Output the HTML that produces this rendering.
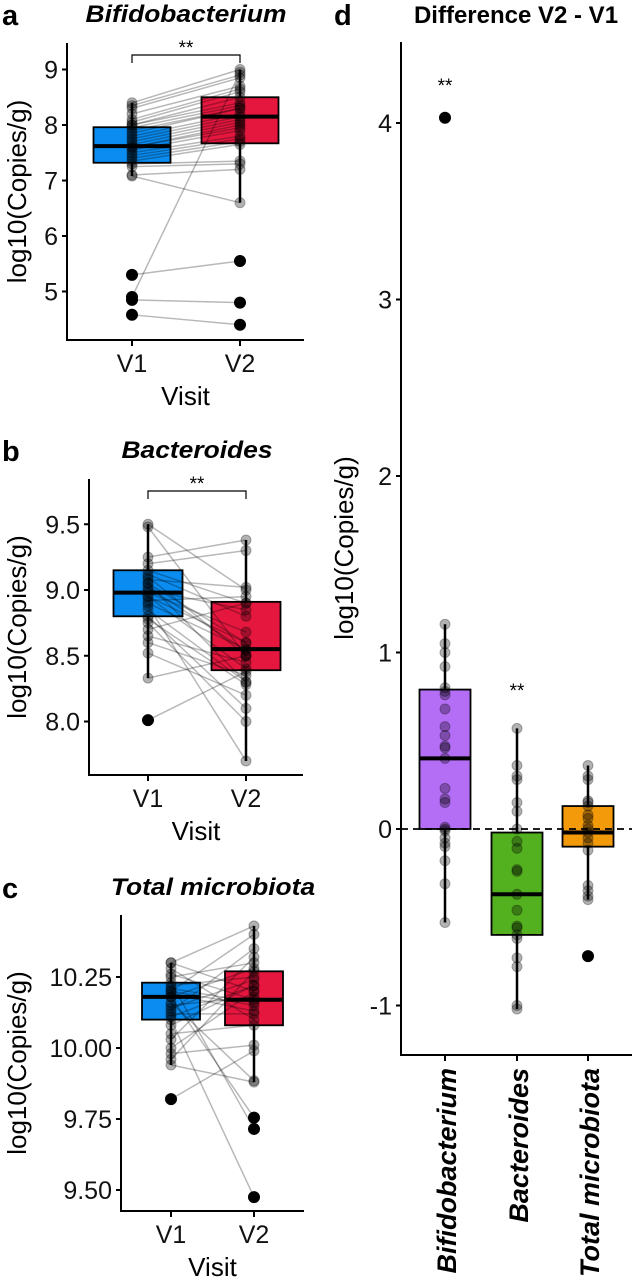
<!DOCTYPE html>
<html><head><meta charset="utf-8"><style>
html,body{margin:0;padding:0;background:#fff;}
svg{display:block;font-family:"Liberation Sans",Arial,sans-serif;}
</style></head><body>
<svg id="fig" width="633" height="1281" viewBox="0 0 633 1281" xmlns="http://www.w3.org/2000/svg"></svg>
<script>
// ---- data ----
const visits = ["V1","V2"];
const aV1 = [8.4,8.35,8.3,8.2,8.1,8.05,8.0,8.0,7.95,7.9,7.85,7.8,7.75,7.7,7.65,7.6,7.6,7.55,7.5,7.45,7.4,7.35,7.3,7.25,7.1,7.08,5.3,4.9,4.85,4.58];
const aV2 = [9.0,8.9,8.85,8.7,8.65,8.6,8.5,8.4,8.35,8.3,8.3,8.2,8.15,8.1,8.05,8.0,7.95,7.9,7.8,7.75,7.7,7.65,7.35,7.3,7.2,6.6,5.55,8.95,4.8,4.4];
const aBox1 = [7.08,7.32,7.62,7.96,8.4];
const aBox2 = [6.6,7.67,8.15,8.5,9.0];
const aTicks = [5,6,7,8,9];
const bV1 = [9.5,9.48,9.25,9.2,9.15,9.1,9.05,9.05,9.0,8.98,8.95,8.9,8.88,8.85,8.8,8.75,8.7,8.65,8.6,8.52,8.33,8.01,9.12,9.08,8.95,8.92,8.78,9.02];
const bV2 = [9.0,8.5,9.38,9.3,8.9,8.5,8.6,8.3,8.85,8.68,8.4,8.55,7.7,8.3,8.1,8.0,8.9,8.45,8.35,8.2,8.5,8.38,8.8,9.02,8.6,8.95,8.28,8.54];
const bBox1 = [8.33,8.8,8.98,9.15,9.5];
const bBox2 = [7.7,8.39,8.55,8.91,9.38];
const bTicks = [8.0,8.5,9.0,9.5];
const cV1 = [10.3,10.3,10.28,10.25,10.23,10.22,10.2,10.2,10.18,10.18,10.15,10.13,10.12,10.1,10.08,10.05,10.03,10.0,9.98,9.96,9.94,9.82,10.26,10.19,10.16,10.14,10.21,10.11];
const cV2 = [10.2,10.43,10.1,10.3,9.715,10.25,10.4,10.15,9.755,10.28,10.18,10.35,10.12,9.475,10.22,10.08,10.32,10.2,10.01,10.27,9.88,9.99,10.17,10.13,9.885,10.24,10.16,10.22];
const cBox1 = [9.94,10.1,10.18,10.23,10.3];
const cBox2 = [9.88,10.08,10.17,10.27,10.43];
const cTicks = [9.50,9.75,10.00,10.25];
const dCats = ["Bifidobacterium","Bacteroides","Total microbiota"];
const dBifido = [1.16,1.05,1.0,0.92,0.8,0.78,0.76,0.68,0.58,0.53,0.47,0.46,0.4,0.23,0.17,0.15,0.01,0.0,-0.01,-0.05,-0.08,-0.1,-0.18,-0.31,-0.53,4.03];
const dBact = [0.57,0.36,0.3,0.28,0.15,0.1,0.0,-0.07,-0.11,-0.23,-0.24,-0.37,-0.46,-0.55,-0.56,-0.6,-0.62,-0.73,-0.78,-1.0,-1.02];
const dTotal = [0.36,0.3,0.28,0.16,0.15,0.13,0.08,0.06,0.02,0.0,-0.02,-0.05,-0.08,-0.12,-0.32,-0.35,-0.38,-0.4,-0.72];
const dBoxes = [[-0.53,0.0,0.40,0.79,1.16],[-1.02,-0.6,-0.37,-0.02,0.57],[-0.4,-0.1,-0.02,0.13,0.36]];
const dTicks = [-1,0,1,2,3,4];

const NS="http://www.w3.org/2000/svg";
const svg=document.getElementById('fig');
function mk(tag,attrs,parent){const e=document.createElementNS(NS,tag);for(const k in attrs)e.setAttribute(k,attrs[k]);(parent||svg).appendChild(e);return e;}
function txt(s,attrs,parent){const e=mk('text',attrs,parent);e.textContent=s;return e;}

function drawBox(g,x,hw,st,y,fill){
  const w=mk('line',{x1:x,x2:x,y1:y(st[0]),y2:y(st[4]),stroke:'#000','stroke-width':2.5},g);
  
  
  const r=mk('rect',{x:x-hw,y:y(st[3]),width:2*hw,height:y(st[1])-y(st[3]),fill:fill,stroke:'#000','stroke-width':1.8},g);
  
  
  const m=mk('line',{x1:x-hw,x2:x+hw,y1:y(st[2]),y2:y(st[2]),stroke:'#000','stroke-width':4},g);
  
  
}
function pt(g,x,v,y,lo,hi){
  const out=v<lo||v>hi;
  const c=mk('circle',{cx:x,cy:y(v),r:out?5.5:5,fill:'#000','fill-opacity':out?1:0.3,stroke:'#000','stroke-opacity':out?1:0.3},g);
  
  
}

function panel(cfg){
  const g=mk('g',{});
  
  
  const y=v=>cfg.refY-(v-cfg.ref)*cfg.ppu;
  const xs=[cfg.x1,cfg.x2];
  const L=txt(cfg.letter,{x:2,y:cfg.titleY+3,'font-size':29,'font-weight':'bold'},g);
  
  
  const T=txt(cfg.title,{x:0,y:0,'font-size':24,'font-weight':'bold','font-style':'italic','text-anchor':'middle',transform:`translate(${cfg.titleX},${cfg.titleY}) scale(1.1,1)`},g);
  
  
  drawBox(g,cfg.x1,cfg.hw,cfg.box1,y,'#0a8cf0');
  drawBox(g,cfg.x2,cfg.hw,cfg.box2,y,'#e5173f');
  for(let i=0;i<cfg.v1.length;i++){
    const l=mk('line',{x1:cfg.x1,y1:y(cfg.v1[i]),x2:cfg.x2,y2:y(cfg.v2[i]),stroke:'#000','stroke-opacity':0.28,'stroke-width':1.5},g);
    
    
  }
  cfg.v1.forEach(v=>pt(g,cfg.x1,v,y,cfg.box1[0]-1e-6,cfg.box1[4]+1e-6));
  cfg.v2.forEach(v=>pt(g,cfg.x2,v,y,cfg.box2[0]-1e-6,cfg.box2[4]+1e-6));
  const ya=mk('line',{x1:cfg.ax,x2:cfg.ax,y1:cfg.top,y2:cfg.bottom+1,stroke:'#000','stroke-width':2},g);
  
  
  const xa=mk('line',{x1:cfg.ax-1,x2:cfg.right,y1:cfg.bottom,y2:cfg.bottom,stroke:'#000','stroke-width':2},g);
  
  
  cfg.ticks.forEach(t=>{
    mk('line',{x1:cfg.ax-5,x2:cfg.ax,y1:y(t),y2:y(t),stroke:'#000','stroke-width':2},g);
    const tl=txt(t.toFixed(cfg.dec),{x:cfg.ax-9,y:y(t)+9,'font-size':25,'text-anchor':'end',fill:'#111'},g);
    
    
  });
  visits.forEach((v,i)=>{
    mk('line',{x1:xs[i],x2:xs[i],y1:cfg.bottom,y2:cfg.bottom+6,stroke:'#000','stroke-width':2},g);
    const xl=txt(v,{x:xs[i],y:cfg.bottom+32,'font-size':25,'text-anchor':'middle',fill:'#111'},g);
    
    
  });
  const xt=txt('Visit',{x:(cfg.ax+cfg.right)/2,y:cfg.bottom+65,'font-size':26,'text-anchor':'middle'},g);
  
  
  const cy=(cfg.top+cfg.bottom)/2;
  const yt=txt('log10(Copies/g)',{x:0,y:0,'font-size':26,'text-anchor':'middle',transform:`translate(26,${cy}) rotate(-90)`},g);
  
  
  if(cfg.bracketY){
    mk('path',{d:`M${cfg.x1},${cfg.bracketY+8}V${cfg.bracketY}H${cfg.x2}V${cfg.bracketY+8}`,fill:'none',stroke:'#000','stroke-width':1.2},g);
    const s=txt('**',{x:(cfg.x1+cfg.x2)/2,y:cfg.bracketY-1,'font-size':19,'text-anchor':'middle'},g);
    
    
  }
}

panel({name:'panel-a-bifidobacterium',letter:'a',title:'Bifidobacterium',titleX:186,titleY:22,ax:67,top:43,bottom:340,right:304,ref:8,refY:125,ppu:55.5,x1:132,x2:240,hw:38.5,box1:aBox1,box2:aBox2,v1:aV1,v2:aV2,ticks:aTicks,dec:0,bracketY:55});
panel({name:'panel-b-bacteroides',letter:'b',title:'Bacteroides',titleX:197,titleY:458,ax:89,top:479,bottom:775,right:303,ref:9,refY:590,ppu:131.5,x1:148,x2:246,hw:34.5,box1:bBox1,box2:bBox2,v1:bV1,v2:bV2,ticks:bTicks,dec:1,bracketY:491});
panel({name:'panel-c-total-microbiota',letter:'c',title:'Total microbiota',titleX:213,titleY:895,ax:121,top:915,bottom:1211,right:304,ref:10,refY:1048,ppu:284,x1:171,x2:254,hw:29,box1:cBox1,box2:cBox2,v1:cV1,v2:cV2,ticks:cTicks,dec:2,bracketY:0});

// ---- panel d ----
(function(){
  const g=mk('g',{});
  
  
  const ax=401,top=42,bottom=1055,right=632;
  const y=v=>829-v*176.5;
  const xs=[445,517,588];
  const fills=['#b36ef5','#53b01f','#f29a0a'];
  const series=[dBifido,dBact,dTotal];
  const L=txt('d',{x:334,y:25,'font-size':29,'font-weight':'bold'},g);
  
  
  const T=txt('Difference V2 - V1',{x:516,y:23,'font-size':24,'font-weight':'bold','text-anchor':'middle'},g);
  
  
  dBoxes.forEach((st,i)=>drawBox(g,xs[i],25.5,st,y,fills[i]));
  const z=mk('line',{x1:ax,x2:right,y1:y(0),y2:y(0),stroke:'#000','stroke-width':1.8,'stroke-dasharray':'7,5'},g);
  
  
  series.forEach((s,i)=>s.forEach(v=>pt(g,xs[i],v,y,dBoxes[i][0]-1e-6,dBoxes[i][4]+1e-6)));
  const ya=mk('line',{x1:ax,x2:ax,y1:top,y2:bottom+1,stroke:'#000','stroke-width':2},g);
  
  
  const xa=mk('line',{x1:ax-1,x2:right,y1:bottom,y2:bottom,stroke:'#000','stroke-width':2},g);
  
  
  dTicks.forEach(t=>{
    mk('line',{x1:ax-5,x2:ax,y1:y(t),y2:y(t),stroke:'#000','stroke-width':2},g);
    const tl=txt(String(t),{x:ax-9,y:y(t)+9,'font-size':25,'text-anchor':'end',fill:'#111'},g);
    
    
  });
  dCats.forEach((c,i)=>{
    mk('line',{x1:xs[i],x2:xs[i],y1:bottom,y2:bottom+6,stroke:'#000','stroke-width':2},g);
    const xl=txt(c,{x:0,y:0,'font-size':27,'font-weight':'bold','font-style':'italic','text-anchor':'end',transform:`translate(${xs[i]+11},${bottom+13}) rotate(-90)`},g);
    
    
  });
  const yt=txt('log10(Copies/g)',{x:0,y:0,'font-size':26,'text-anchor':'middle',transform:`translate(353,548) rotate(-90)`},g);
  
  
  const s1=txt('**',{x:xs[0],y:92,'font-size':19,'text-anchor':'middle'},g);
  
  
  const s2=txt('**',{x:xs[1],y:697,'font-size':19,'text-anchor':'middle'},g);
  
  
})();
</script>
</body></html>
